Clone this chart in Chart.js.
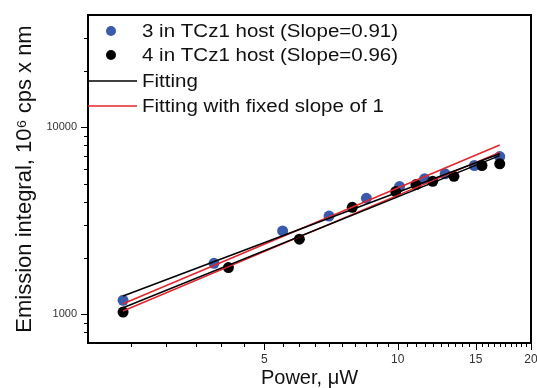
<!DOCTYPE html>
<html>
<head>
<meta charset="utf-8">
<script src="https://cdn.jsdelivr.net/npm/chart.js@4.4.1/dist/chart.umd.min.js"></script>
<style>
    html, body { margin: 0; padding: 0; background: #fff; }
    #chart { display: block; }
</style>
</head>
<body>
<canvas id="chart" width="537" height="388"></canvas>
<script>
// Datos (escala log-log)
const blueX = [2.4, 3.85, 5.5, 7.0, 8.5, 10.1, 11.5, 12.8, 14.9, 17.0];
const blueY = [1185, 1870, 2790, 3350, 4170, 4820, 5300, 5640, 6250, 6980];
const blackX = [2.4, 4.15, 6.0, 7.9, 9.9, 11.0, 12.0, 13.4, 15.5, 17.0];
const blackY = [1025, 1775, 2520, 3730, 4530, 4940, 5140, 5470, 6250, 6380];

// Extremos de las rectas de ajuste
const fitX = [2.4, 17.0];
const fit3Y = [1249, 7220];
const fit3FixedY = [1136, 8050];
const fit4Y = [1081, 7060];
const fit4FixedY = [1038, 7350];

// Marcas de los ejes
const xLabels = [5, 10, 15, 20];
const yLabels = [1000, 10000];
const yMinor = [800, 900, 2000, 3000, 4000, 5000, 6000, 7000, 8000, 9000, 20000, 30000];

const legendItems = [
    { type: 'point', color: '#3a5bab', text: '3 in TCz1 host (Slope=0.91)' },
    { type: 'point', color: '#000000', text: '4 in TCz1 host (Slope=0.96)' },
    { type: 'line', color: '#000000', text: 'Fitting' },
    { type: 'line', color: '#e3262d', text: 'Fitting with fixed slope of 1' }
];

function pares(xs, ys) {
    return xs.map((x, i) => ({ x: x, y: ys[i] }));
}

const xMinor = [];
for (let v = 2.5; v < 20; v += 0.5) {
    if (!xLabels.includes(v)) xMinor.push(v);
}

const marcoPlugin = {
    id: 'marco',
    afterDraw(chart) {
        const { ctx, chartArea: a, scales: { x, y } } = chart;
        ctx.save();
        ctx.strokeStyle = '#000';
        ctx.lineWidth = 2;
        ctx.beginPath();
        ctx.moveTo(a.left, a.top);
        ctx.lineTo(a.right, a.top);
        ctx.lineTo(a.right, a.bottom);
        ctx.stroke();

        // marcas menores y mayores
        ctx.lineWidth = 1;
        ctx.beginPath();
        xMinor.forEach(v => {
            const px = Math.round(x.getPixelForValue(v)) + 0.5;
            ctx.moveTo(px, a.bottom);
            ctx.lineTo(px, a.bottom + 4);
        });
        xLabels.forEach(v => {
            const px = Math.round(x.getPixelForValue(v)) + 0.5;
            ctx.moveTo(px, a.bottom);
            ctx.lineTo(px, a.bottom + 7);
        });
        yMinor.forEach(v => {
            const py = Math.round(y.getPixelForValue(v)) + 0.5;
            ctx.moveTo(a.left, py);
            ctx.lineTo(a.left - 4, py);
        });
        yLabels.forEach(v => {
            const py = Math.round(y.getPixelForValue(v)) + 0.5;
            ctx.moveTo(a.left, py);
            ctx.lineTo(a.left - 7, py);
        });
        ctx.stroke();

        // leyenda dentro del área
        const rows = [31, 55, 81, 106];
        legendItems.forEach((item, i) => {
            const yy = rows[i];
            if (item.type === 'point') {
                ctx.fillStyle = item.color;
                ctx.beginPath();
                ctx.arc(111, yy, 5, 0, Math.PI * 2);
                ctx.fill();
            } else {
                ctx.strokeStyle = item.color;
                ctx.lineWidth = 1.5;
                ctx.beginPath();
                ctx.moveTo(a.left, yy);
                ctx.lineTo(137, yy);
                ctx.stroke();
            }
            ctx.save();
            ctx.translate(142, yy);
            ctx.scale(1.14, 1);
            ctx.fillStyle = '#111';
            ctx.font = '18px "Liberation Sans", Arial, sans-serif';
            ctx.textBaseline = 'middle';
            ctx.fillText(item.text, 0, 1);
            ctx.restore();
        });
        ctx.restore();
    }
};

new Chart(document.getElementById('chart'), {
    type: 'scatter',
    data: {
        datasets: [
            { label: 'Fitting 3', data: pares(fitX, fit3Y), showLine: true, borderColor: '#000', borderWidth: 1.5, pointRadius: 0, order: 0 },
            { label: 'Fitting 4', data: pares(fitX, fit4Y), showLine: true, borderColor: '#000', borderWidth: 1.5, pointRadius: 0, order: 0 },
            { label: 'Fixed 3', data: pares(fitX, fit3FixedY), showLine: true, borderColor: '#e3262d', borderWidth: 1.5, pointRadius: 0, order: 0 },
            { label: 'Fixed 4', data: pares(fitX, fit4FixedY), showLine: true, borderColor: '#e3262d', borderWidth: 1.5, pointRadius: 0, order: 0 },
            { label: '4 in TCz1 host', data: pares(blackX, blackY), backgroundColor: '#000', borderWidth: 0, pointRadius: 5.5, order: 1 },
            { label: '3 in TCz1 host', data: pares(blueX, blueY), backgroundColor: '#3a5bab', borderWidth: 0, pointRadius: 5.5, order: 2 }
        ]
    },
    options: {
        responsive: false,
        animation: false,
        layout: { padding: { left: 0, right: 6, top: 15, bottom: 0 } },
        plugins: {
            legend: { display: false },
            tooltip: { enabled: false }
        },
        scales: {
            x: {
                type: 'logarithmic',
                min: 2,
                max: 20,
                afterBuildTicks: scale => { scale.ticks = xLabels.map(v => ({ value: v })); },
                afterFit: scale => {
                    scale.height = 45;
                    scale.paddingLeft = 0;
                    scale.paddingRight = 0;
                },
                grid: { display: false, drawTicks: false },
                border: { display: true, color: '#000', width: 2 },
                ticks: {
                    color: '#333',
                    padding: 9,
                    maxRotation: 0,
                    autoSkip: false,
                    font: { family: '"Liberation Sans", Arial, sans-serif', size: 12 },
                    callback: v => String(v)
                },
                title: {
                    display: true,
                    text: 'Power, μW',
                    color: '#111',
                    padding: 0,
                    font: { family: '"Liberation Sans", Arial, sans-serif', size: 20, lineHeight: 1 }
                }
            },
            y: {
                type: 'logarithmic',
                min: 700,
                max: 40000,
                afterBuildTicks: scale => { scale.ticks = yLabels.map(v => ({ value: v })); },
                afterFit: scale => {
                    scale.width = 88;
                    scale.paddingTop = 0;
                    scale.paddingBottom = 0;
                },
                grid: { display: false, drawTicks: false },
                border: { display: true, color: '#000', width: 2 },
                ticks: {
                    color: '#333',
                    padding: 11,
                    autoSkip: false,
                    font: { family: '"Liberation Sans", Arial, sans-serif', size: 11 },
                    callback: v => String(v)
                },
                title: {
                    display: true,
                    text: 'Emission integral, 10⁶ cps x nm',
                    color: '#111',
                    padding: { top: 14 },
                    font: { family: '"Liberation Sans", Arial, sans-serif', size: 22, lineHeight: 1 }
                }
            }
        }
    },
    plugins: [marcoPlugin]
});
</script>
</body>
</html>
